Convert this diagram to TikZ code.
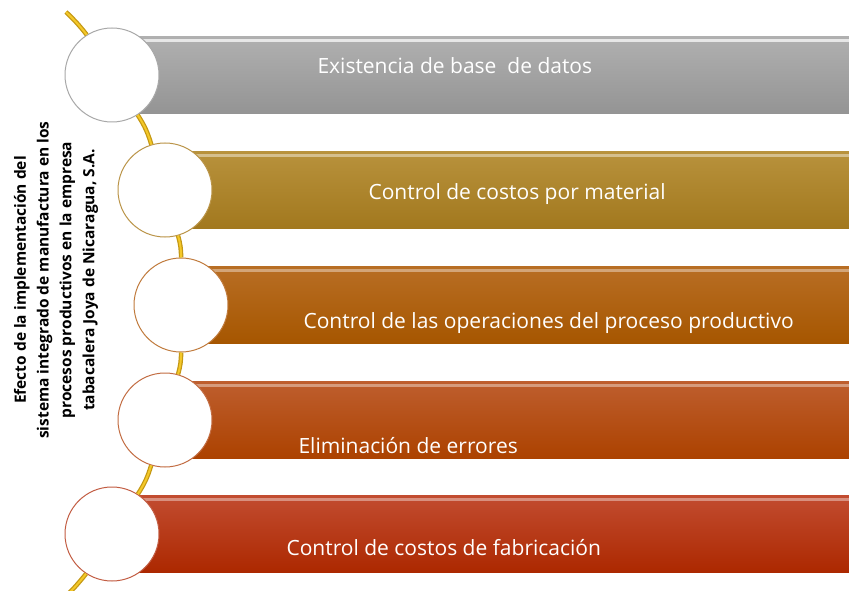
\documentclass[tikz,border=0pt]{standalone}
\usepackage{fontspec}
\setmainfont{Open Sans}
\usepackage{tikz}
\usetikzlibrary{positioning}
\definecolor{jnic_gray_top}{RGB}{176,176,176}
\definecolor{jnic_gray_bot}{RGB}{148,148,148}
\definecolor{jnic_gray_edge}{RGB}{168,168,168}
\definecolor{jnic_gold_top}{RGB}{184,146,60}
\definecolor{jnic_gold_bot}{RGB}{162,120,30}
\definecolor{jnic_gold_edge}{RGB}{186,148,72}
\definecolor{jnic_orange_top}{RGB}{184,110,36}
\definecolor{jnic_orange_bot}{RGB}{166,86,0}
\definecolor{jnic_orange_edge}{RGB}{192,122,60}
\definecolor{jnic_rust_top}{RGB}{190,94,46}
\definecolor{jnic_rust_bot}{RGB}{172,66,0}
\definecolor{jnic_rust_edge}{RGB}{194,108,66}
\definecolor{jnic_red_top}{RGB}{194,76,48}
\definecolor{jnic_red_bot}{RGB}{172,40,0}
\definecolor{jnic_red_edge}{RGB}{194,92,66}
\definecolor{jnic_rod}{RGB}{244,200,40}
\definecolor{jnic_rod_edge}{RGB}{196,152,20}

\begin{document}
\begin{tikzpicture}[
        x=1pt, y=-1pt,
        bar/.style={anchor=west, minimum height=77pt, inner sep=0pt,
                    draw=none},
        shine/.style={line width=2.5pt, opacity=0.7},
        disc/.style={circle, fill=white, minimum size=94pt, inner sep=0pt,
                     line width=1pt},
        rod/.style={line width=4.5pt, jnic_rod_edge},
        rodcore/.style={line width=2pt, jnic_rod},
        item/.style={anchor=base west, text=white,
                     font=\fontsize{21}{24}\selectfont},
        heading/.style={rotate=90, align=center,
                        font=\bfseries\fontsize{15.5}{22.8}\selectfont},
      ]
        \clip (0,0) rectangle (849,591);

        % barras
        \node[bar, minimum width=737pt, top color=jnic_gray_top,
              bottom color=jnic_gray_bot] (bar1) at (112,75) {};
        \node[bar, minimum width=684pt, top color=jnic_gold_top,
              bottom color=jnic_gold_bot] (bar2) at (165,190) {};
        \node[bar, minimum width=668pt, top color=jnic_orange_top,
              bottom color=jnic_orange_bot] (bar3) at (181,305) {};
        \node[bar, minimum width=684pt, top color=jnic_rust_top,
              bottom color=jnic_rust_bot] (bar4) at (165,420) {};
        \node[bar, minimum width=737pt, top color=jnic_red_top,
              bottom color=jnic_red_bot] (bar5) at (112,534) {};

        \draw[shine, white] ([yshift=-4pt]bar1.north west) -- ([yshift=-4pt]bar1.north east);
        \draw[shine, jnic_gold_top!40!white] ([yshift=-4pt]bar2.north west) -- ([yshift=-4pt]bar2.north east);
        \draw[shine, jnic_orange_top!45!white] ([yshift=-4pt]bar3.north west) -- ([yshift=-4pt]bar3.north east);
        \draw[shine, jnic_rust_top!45!white] ([yshift=-4pt]bar4.north west) -- ([yshift=-4pt]bar4.north east);
        \draw[shine, jnic_red_top!45!white] ([yshift=-4pt]bar5.north west) -- ([yshift=-4pt]bar5.north east);

        % circulos
        \node[disc, draw=jnic_gray_edge] (c1) at (112,75) {};
        \node[disc, draw=jnic_gold_edge] (c2) at (165,190) {};
        \node[disc, draw=jnic_orange_edge] (c3) at (181,305) {};
        \node[disc, draw=jnic_rust_edge] (c4) at (165,420) {};
        \node[disc, draw=jnic_red_edge] (c5) at (112,534) {};

        \coordinate (top) at (66,12);
        \coordinate (bottom) at (62,600);

        % linea dorada
        \foreach \s in {rod, rodcore} {
          \draw[\s] (top) to[bend left=4] (c1);
          \draw[\s] (c1) to[bend left=8] (c2);
          \draw[\s] (c2) to[bend left=8] (c3);
          \draw[\s] (c3) to[bend left=8] (c4);
          \draw[\s] (c4) to[bend left=8] (c5);
          \draw[\s] (c5) to[bend left=4] (bottom);
        }

        % textos
        \node[item] (t1) at (314,74) {Existencia de base \ de datos};
        \node[item] (t2) at (365,200) {Control de costos por material};
        \node[item] (t3) at (300,328) {Control de las operaciones del proceso productivo};
        \node[item] (t4) at (295,453) {Eliminación de errores};
        \node[item] (t5) at (283,555) {Control de costos de fabricación};

        \node[heading] (title) at (56,280) {Efecto de la implementación del\\
          sistema integrado de manufactura en los\\
          procesos productivos en la empresa\\
          tabacalera Joya de Nicaragua, S.A.};
      \end{tikzpicture}
\end{document}
